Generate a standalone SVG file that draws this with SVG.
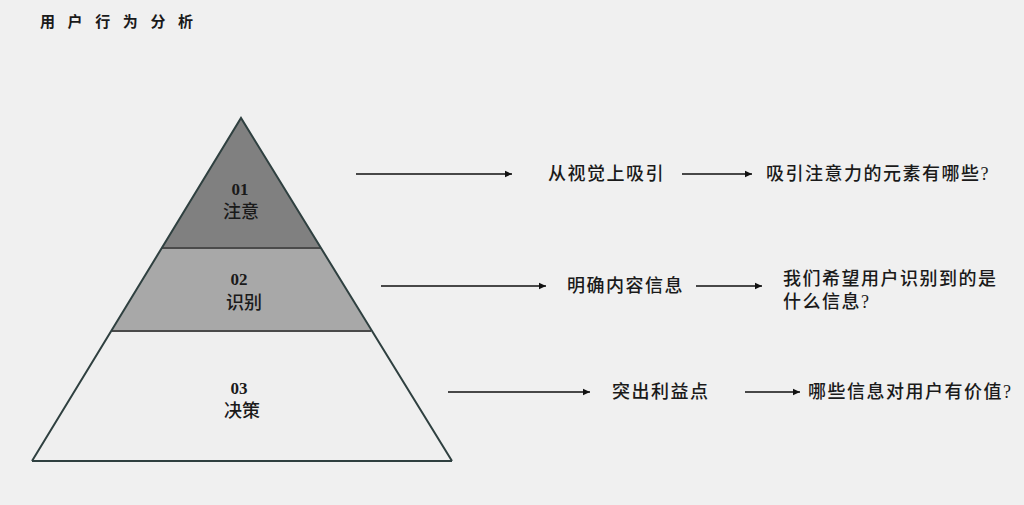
<svg xmlns="http://www.w3.org/2000/svg" width="1024" height="505" viewBox="0 0 1024 505">
<defs>
<marker id="ah" markerWidth="8" markerHeight="8" refX="7" refY="4" orient="auto" markerUnits="userSpaceOnUse">
<path d="M0,0.8 L7,4 L0,7.2 Z" fill="#111"/>
</marker>
<style>
text{font-family:"Liberation Serif","Noto Sans CJK SC",serif;fill:#1a1a1a;font-weight:500;}
.t{font-size:18px;letter-spacing:1.5px;dominant-baseline:central;}
.c{font-size:18px;text-anchor:middle;dominant-baseline:central;}
.n{font-size:17px;text-anchor:middle;dominant-baseline:central;font-weight:bold;}
.a{stroke:#111;stroke-width:1.3;fill:none;marker-end:url(#ah);}
.edge{stroke:#2f4040;stroke-width:2;}
.div{stroke:#4a4a4a;stroke-width:2;}
</style>
</defs>
<rect width="1024" height="505" fill="#f0f0f0"/>
<text x="40" y="22" style="font-size:15px;letter-spacing:12.6px;dominant-baseline:central;font-weight:bold">用户行为分析</text>
<g id="pyramid">
<g id="level3">
<polygon points="112,331 371,331 452,461 32,461" fill="#efefef"/>
<text class="n" x="239" y="388">03</text>
<text class="c" x="242" y="411">决策</text>
</g>
<g id="level2">
<polygon points="162,248 321,248 371,331 112,331" fill="#a8a8a8"/>
<text class="n" x="239" y="279">02</text>
<text class="c" x="244" y="303">识别</text>
</g>
<g id="level1">
<polygon points="241,118 321,248 162,248" fill="#808080"/>
<text class="n" x="240" y="189">01</text>
<text class="c" x="241" y="212">注意</text>
</g>
<line class="div" x1="162" y1="248" x2="321" y2="248"/>
<line class="div" x1="112" y1="331" x2="371" y2="331"/>
<polyline class="edge" points="32,461 241,118 452,461" fill="none"/>
<line class="edge" x1="32" y1="461" x2="452" y2="461" stroke="#556060"/>
</g>
<g id="n1a"><text class="t" x="548" y="174">从视觉上吸引</text></g>
<g id="n1b"><text class="t" x="766" y="174">吸引注意力的元素有哪些?</text></g>
<g id="n2a"><text class="t" x="567" y="286">明确内容信息</text></g>
<g id="n2b"><text class="t" x="783" y="279">我们希望用户识别到的是</text><text class="t" x="783" y="302">什么信息?</text></g>
<g id="n3a"><text class="t" x="612" y="392">突出利益点</text></g>
<g id="n3b"><text class="t" x="808" y="392">哪些信息对用户有价值?</text></g>
<g id="connectors">
<line class="a" x1="356" y1="174" x2="512" y2="174"/>
<line class="a" x1="682" y1="174" x2="752" y2="174"/>
<line class="a" x1="381" y1="286" x2="546" y2="286"/>
<line class="a" x1="696" y1="286" x2="762" y2="286"/>
<line class="a" x1="448" y1="392" x2="590" y2="392"/>
<line class="a" x1="745" y1="392" x2="800" y2="392"/>
</g>
</svg>
